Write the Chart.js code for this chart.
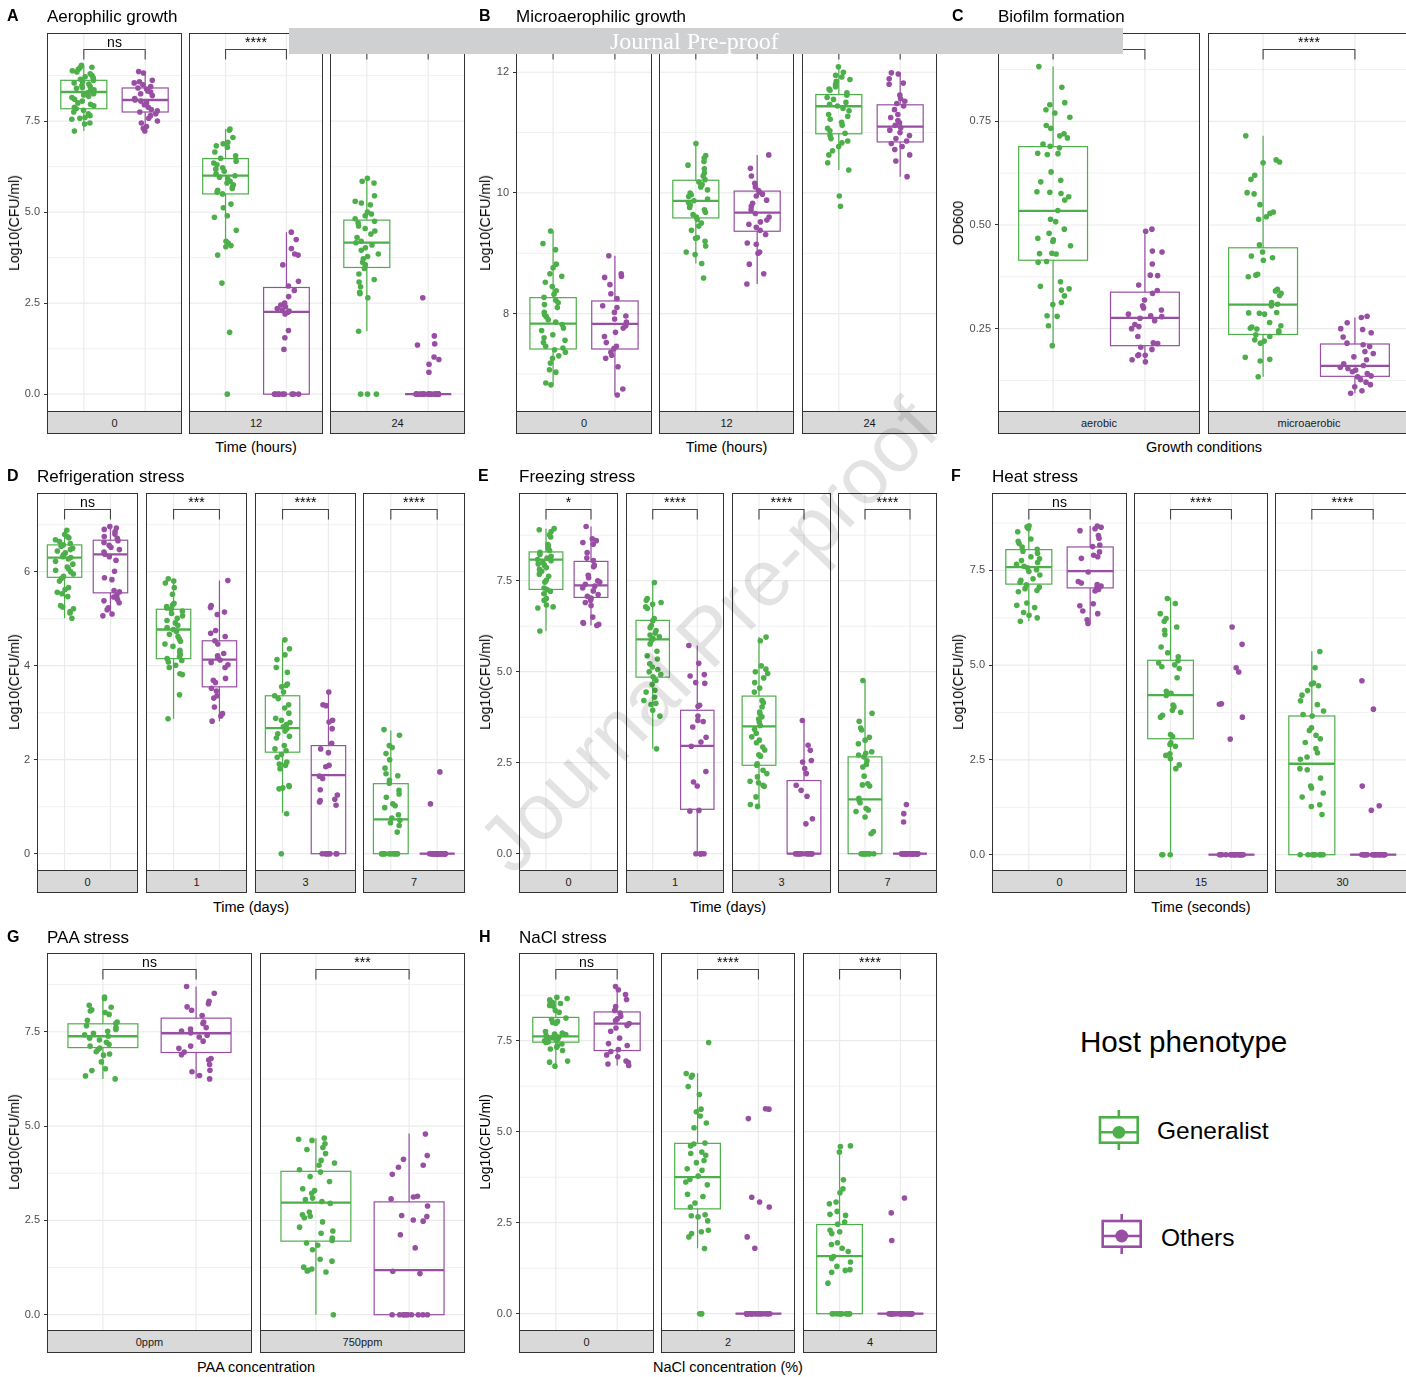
<!DOCTYPE html>
<html><head><meta charset="utf-8">
<script src="https://cdn.jsdelivr.net/npm/chart.js@4.4.1/dist/chart.umd.min.js"></script>
<style>
html,body{margin:0;padding:0;background:#fff;}
#root{position:relative;width:1406px;height:1377px;overflow:hidden;background:#fff;font-family:"Liberation Sans",Arial,Helvetica,sans-serif;color:#000;}
canvas{position:absolute;}
.t{position:absolute;white-space:nowrap;line-height:1;}
.strip{position:absolute;box-sizing:border-box;background:#d9d9d9;border:1px solid #333;font-size:11px;color:#1a1a1a;display:flex;align-items:center;justify-content:center;}
</style></head><body><div id="root"></div>
<script>
// ================= DATA =================
const groups = ['Generalist', 'Others'];

// ---- A: Aerophilic growth (Log10 CFU/ml) ----
const aeroFacets = ['0', '12', '24'];
const aeroTicks = [0, 2.5, 5, 7.5];
const aeroTickLabels = ['0.0', '2.5', '5.0', '7.5'];
const aeroSig = ['ns', '****', '****'];
const aeroGeneralist = [
 [9.03,8.98,8.97,8.92,8.88,8.85,8.80,8.75,8.72,8.68,8.65,8.62,8.58,8.55,8.52,8.48,8.45,8.42,8.40,8.36,8.33,8.30,8.28,8.25,8.22,8.18,8.15,8.10,8.05,8.00,7.96,7.92,7.88,7.84,7.80,7.75,7.70,7.65,7.60,7.58,7.55,7.45,7.42,7.23],
 [7.28,7.25,7.05,6.92,6.88,6.82,6.78,6.65,6.55,6.48,6.40,6.35,6.30,6.22,6.18,6.12,6.05,6.00,5.96,5.92,5.85,5.80,5.75,5.70,5.65,5.60,5.55,5.50,5.22,5.12,4.90,4.86,4.50,4.20,4.15,4.08,4.05,3.82,3.05,1.70,0],
 [5.93,5.85,5.80,5.45,5.30,5.25,5.20,5.00,4.95,4.90,4.82,4.75,4.70,4.62,4.55,4.48,4.40,4.30,4.20,4.16,4.10,4.02,3.95,3.85,3.78,3.72,3.62,3.55,3.45,3.30,3.15,3.08,2.95,2.80,2.76,2.65,1.73,0,0,0]
];
const aeroOthers = [
 [8.86,8.82,8.62,8.58,8.55,8.50,8.45,8.41,8.38,8.33,8.30,8.25,8.20,8.12,8.08,8.05,8.00,7.95,7.88,7.82,7.78,7.75,7.70,7.65,7.58,7.50,7.45,7.35,7.30,7.23],
 [4.45,4.25,4.00,3.85,3.82,3.55,3.10,2.97,2.85,2.68,2.50,2.45,2.40,2.35,2.30,2.28,2.25,2.20,1.75,1.55,1.23,0,0,0,0,0,0,0,0,0],
 [2.65,1.60,1.38,1.35,1.02,0.95,0.82,0.60,0,0,0,0,0,0,0,0,0,0,0,0,0,0,0,0,0,0,0,0,0,0]
];
// box stats: [lower whisker, Q1, median, Q3, upper whisker]
const aeroBoxGeneralist = [[7.23,7.84,8.30,8.62,9.03],[4.05,5.50,6.00,6.47,7.28],[1.73,3.48,4.16,4.78,5.93]];
const aeroBoxOthers = [[7.23,7.75,8.08,8.41,8.86],[0,0,2.26,2.93,4.45],[0,0,0,0,0]];

// ---- B: Microaerophilic growth ----
const microFacets = ['0', '12', '24'];
const microTicks = [8, 10, 12];
const microTickLabels = ['8', '10', '12'];
const microSig = ['ns', '****', '****'];
const microGeneralist = [
 [9.37,9.16,9.06,8.82,8.76,8.66,8.62,8.52,8.45,8.38,8.32,8.27,8.22,8.18,8.15,8.10,8.02,7.98,7.95,7.90,7.86,7.82,7.76,7.72,7.65,7.60,7.56,7.52,7.46,7.43,7.40,7.36,7.30,7.26,7.18,7.07,7.03,6.85,6.82],
 [10.82,10.62,10.58,10.52,10.46,10.40,10.33,10.28,10.22,10.18,10.14,10.10,10.05,10.00,9.97,9.94,9.90,9.87,9.84,9.80,9.76,9.72,9.68,9.64,9.60,9.56,9.50,9.45,9.38,9.26,9.25,9.20,9.12,9.02,8.98,8.83,8.59],
 [12.09,12.00,11.95,11.92,11.88,11.85,11.80,11.76,11.72,11.70,11.66,11.62,11.58,11.55,11.50,11.47,11.44,11.40,11.36,11.30,11.27,11.22,11.17,11.12,11.07,11.03,10.99,10.95,10.90,10.86,10.83,10.77,10.70,10.63,10.50,10.38,9.95,9.78]
];
const microOthers = [
 [8.96,8.66,8.62,8.60,8.48,8.33,8.25,8.13,8.10,8.02,7.96,7.91,7.86,7.80,7.76,7.69,7.62,7.52,7.46,7.42,7.36,7.31,7.26,7.12,6.75,6.65],
 [10.63,10.41,10.28,10.16,10.10,10.04,10.01,9.98,9.95,9.88,9.83,9.78,9.72,9.66,9.60,9.55,9.52,9.48,9.43,9.38,9.31,9.17,9.15,9.02,9.00,8.82,8.66,8.49],
 [11.99,11.97,11.89,11.82,11.80,11.62,11.56,11.52,11.48,11.44,11.38,11.30,11.25,11.20,11.16,11.12,11.08,11.04,11.00,10.95,10.90,10.86,10.82,10.77,10.72,10.63,10.53,10.27]
];
const microBoxGeneralist = [[6.82,7.414,7.834,8.265,9.37],[8.83,9.586,9.867,10.21,10.82],[10.38,10.98,11.436,11.63,12.09]];
const microBoxOthers = [[6.65,7.414,7.83,8.21,8.96],[8.49,9.365,9.674,10.03,10.63],[10.27,10.845,11.10,11.46,11.99]];

// ---- C: Biofilm formation (OD600) ----
const biofilmFacets = ['aerobic', 'microaerobic'];
const biofilmTicks = [0.25, 0.5, 0.75];
const biofilmTickLabels = ['0.25', '0.50', '0.75'];
const biofilmSig = ['****', '****'];
const biofilmGeneralist = [
 [0.882,0.832,0.795,0.790,0.778,0.770,0.760,0.740,0.733,0.720,0.715,0.710,0.695,0.690,0.686,0.673,0.672,0.670,0.628,0.608,0.604,0.580,0.579,0.576,0.568,0.560,0.535,0.514,0.508,0.490,0.480,0.468,0.464,0.460,0.450,0.432,0.431,0.430,0.412,0.410,0.363,0.352,0.346,0.343,0.329,0.313,0.308,0.281,0.280,0.257,0.209],
 [0.715,0.657,0.652,0.650,0.620,0.610,0.578,0.575,0.549,0.531,0.528,0.520,0.514,0.452,0.435,0.425,0.421,0.415,0.381,0.379,0.375,0.345,0.341,0.335,0.330,0.313,0.309,0.305,0.289,0.288,0.287,0.285,0.265,0.257,0.254,0.251,0.249,0.245,0.241,0.235,0.231,0.223,0.220,0.215,0.181,0.176,0.172,0.134]
];
const biofilmOthers = [
 [0.490,0.485,0.437,0.435,0.406,0.379,0.378,0.355,0.342,0.335,0.319,0.305,0.300,0.295,0.285,0.281,0.279,0.275,0.269,0.260,0.255,0.250,0.231,0.216,0.214,0.205,0.200,0.187,0.186,0.185,0.175,0.170],
 [0.280,0.277,0.264,0.250,0.248,0.240,0.230,0.215,0.211,0.207,0.195,0.190,0.182,0.175,0.165,0.161,0.157,0.154,0.150,0.146,0.142,0.136,0.134,0.127,0.121,0.115,0.110,0.100,0.094]
];
const biofilmBoxGeneralist = [[0.209,0.415,0.534,0.689,0.882],[0.134,0.236,0.308,0.445,0.715]];
const biofilmBoxOthers = [[0.170,0.209,0.276,0.338,0.490],[0.094,0.135,0.160,0.213,0.277]];

// ---- D: Refrigeration stress ----
const fridgeFacets = ['0', '1', '3', '7'];
const fridgeTicks = [0, 2, 4, 6];
const fridgeTickLabels = ['0', '2', '4', '6'];
const fridgeSig = ['ns', '***', '****', '****'];
const fridgeGeneralist = [
 [6.88,6.79,6.75,6.72,6.68,6.64,6.60,6.57,6.54,6.50,6.47,6.44,6.40,6.36,6.32,6.30,6.27,6.22,6.16,6.10,6.06,6.03,6.00,5.95,5.90,5.86,5.80,5.66,5.62,5.56,5.53,5.47,5.28,5.25,5.21,5.15,5.12,5.01],
 [5.85,5.80,5.76,5.66,5.52,5.33,5.29,5.26,5.23,5.20,5.16,5.11,5.06,5.01,4.96,4.91,4.86,4.81,4.77,4.73,4.67,4.62,4.57,4.52,4.46,4.41,4.33,4.28,4.24,4.19,4.15,4.11,4.08,4.01,3.96,3.83,3.81,3.38,2.87],
 [4.55,4.36,4.23,4.13,3.96,3.86,3.61,3.58,3.55,3.44,3.36,3.30,3.17,3.10,2.99,2.88,2.84,2.79,2.75,2.70,2.66,2.61,2.55,2.50,2.46,2.30,2.23,2.19,2.11,2.05,1.95,1.91,1.88,1.81,1.45,1.43,1.40,1.38,0.85,0],
 [2.64,2.52,2.30,2.26,2.13,2.00,1.82,1.70,1.66,1.56,1.50,1.35,1.27,1.20,1.06,1.02,0.98,0.83,0.76,0.71,0.66,0.60,0.46,0,0,0,0,0,0,0,0,0,0,0,0]
];
const fridgeOthers = [
 [6.96,6.93,6.90,6.85,6.80,6.75,6.71,6.66,6.62,6.56,6.52,6.47,6.42,6.37,6.32,6.24,6.01,5.87,5.83,5.60,5.57,5.50,5.46,5.41,5.38,5.34,5.23,5.19,5.10,5.06],
 [5.81,5.28,5.24,5.14,5.09,4.75,4.69,4.62,4.53,4.46,4.26,4.21,4.17,4.12,4.07,4.02,3.96,3.73,3.69,3.64,3.52,3.46,3.36,3.31,3.12,2.98,2.93,2.82],
 [3.44,3.17,3.15,2.84,2.80,2.66,2.35,2.23,2.15,1.88,1.85,1.65,1.60,1.36,1.25,1.16,1.13,1.10,1.03,0,0,0,0,0,0,0,0],
 [1.74,1.06,0,0,0,0,0,0,0,0,0,0,0,0,0,0,0,0,0,0,0,0,0,0,0,0,0,0]
];
const fridgeBoxGeneralist = [[5.01,5.88,6.30,6.57,6.88],[2.87,4.15,4.77,5.20,5.85],[0.87,2.16,2.67,3.36,4.56],[0,0,0.73,1.49,2.62]];
const fridgeBoxOthers = [[5.06,5.55,6.37,6.67,6.96],[2.82,3.55,4.13,4.53,5.81],[0,0,1.67,2.30,3.44],[0,0,0,0,0]];

// ---- E: Freezing stress ----
const freezeFacets = ['0', '1', '3', '7'];
const freezeTicks = [0, 2.5, 5, 7.5];
const freezeTickLabels = ['0.0', '2.5', '5.0', '7.5'];
const freezeSig = ['*', '****', '****', '****'];
const freezeGeneralist = [
 [8.93,8.90,8.85,8.76,8.70,8.49,8.45,8.40,8.33,8.28,8.22,8.17,8.12,8.08,8.05,8.01,7.96,7.92,7.86,7.81,7.76,7.68,7.62,7.51,7.46,7.30,7.26,7.21,7.14,7.01,6.96,6.83,6.78,6.75,6.12],
 [7.45,7.01,6.96,6.90,6.85,6.78,6.74,6.46,6.40,6.27,6.21,6.13,6.06,6.01,5.96,5.91,5.86,5.76,5.56,5.44,5.35,5.22,5.13,5.06,5.00,4.92,4.86,4.76,4.65,4.49,4.44,4.30,4.21,4.13,4.10,3.94,3.78,2.88],
 [5.95,5.85,5.16,5.07,5.00,4.95,4.83,4.70,4.55,4.44,4.21,4.15,4.03,3.89,3.85,3.76,3.70,3.62,3.52,3.42,3.31,3.21,3.12,3.05,2.93,2.85,2.72,2.68,2.47,2.43,2.29,2.20,2.11,1.99,1.95,1.88,1.85,1.56,1.35,1.30],
 [4.76,3.86,3.64,3.45,3.40,3.20,3.12,3.02,2.80,2.76,2.71,2.66,2.55,2.45,2.38,2.13,1.92,1.89,1.86,1.52,1.46,1.40,1.24,1.20,1.16,1.01,0.61,0.55,0,0,0,0,0,0,0,0,0,0]
];
const freezeOthers = [
 [8.99,8.65,8.60,8.55,8.50,8.27,8.12,8.05,7.92,7.88,7.65,7.58,7.50,7.46,7.40,7.35,7.30,7.22,7.12,7.07,7.02,6.96,6.90,6.82,6.50,6.35,6.33,6.30,6.27],
 [5.72,5.23,4.92,4.88,4.70,4.68,4.08,4.05,3.78,3.66,3.63,3.48,3.20,3.07,2.95,2.26,1.97,1.86,1.19,1.17,0,0,0,0,0],
 [3.66,2.98,2.84,2.56,2.52,2.34,2.20,1.88,1.74,1.58,0.96,0.82,0,0,0,0,0,0,0,0,0,0,0,0,0,0],
 [1.35,1.10,0.87,0,0,0,0,0,0,0,0,0,0,0,0,0,0,0,0,0,0,0,0,0,0,0,0,0]
];
const freezeBoxGeneralist = [[6.12,7.26,8.08,8.29,8.93],[2.88,4.85,5.89,6.41,7.45],[1.28,2.43,3.50,4.33,5.95],[0,0,1.49,2.66,4.76]];
const freezeBoxOthers = [[6.27,7.04,7.37,8.03,8.99],[0,1.22,2.96,3.94,5.72],[0,0,0,2.01,3.66],[0,0,0,0,0]];

// ---- F: Heat stress ----
const heatFacets = ['0', '15', '30'];
const heatTicks = [0, 2.5, 5, 7.5];
const heatTickLabels = ['0.0', '2.5', '5.0', '7.5'];
const heatSig = ['ns', '****', '****'];
const heatGeneralist = [
 [8.68,8.65,8.61,8.52,8.33,8.27,8.21,8.12,8.06,8.01,7.95,7.86,7.81,7.76,7.71,7.66,7.61,7.57,7.52,7.47,7.38,7.28,7.24,7.19,7.12,7.06,7.02,6.97,6.94,6.64,6.58,6.52,6.39,6.32,6.25,6.16],
 [6.76,6.63,6.36,6.23,6.16,6.01,5.92,5.81,5.48,5.33,5.22,5.12,5.06,5.01,4.96,4.91,4.67,4.31,4.26,4.20,3.95,3.90,3.81,3.76,3.68,3.63,3.17,3.12,2.95,2.91,2.86,2.66,2.62,2.53,2.37,2.27,0,0,0],
 [5.36,4.93,4.53,4.50,4.46,4.33,4.21,4.06,3.96,3.79,3.70,3.66,3.35,3.28,3.15,3.06,2.96,2.80,2.69,2.58,2.52,2.27,2.24,2.02,1.81,1.76,1.63,1.52,1.32,1.27,1.06,0,0,0,0,0,0,0,0,0,0]
];
const heatOthers = [
 [8.67,8.64,8.60,8.55,8.42,8.35,8.17,8.13,7.99,7.90,7.86,7.82,7.46,7.21,7.17,7.13,7.09,7.04,7.00,6.96,6.62,6.57,6.43,6.36,6.20,6.10],
 [6.01,5.55,4.93,4.82,3.98,3.97,3.63,3.05,0,0,0,0,0,0,0,0,0,0,0,0,0,0,0,0,0,0,0,0],
 [4.59,3.84,1.81,1.29,1.17,0,0,0,0,0,0,0,0,0,0,0,0,0,0,0,0,0,0,0,0,0,0]
];
const heatBoxGeneralist = [[6.16,7.14,7.59,8.05,8.68],[0,3.06,4.21,5.13,6.78],[0,0,2.40,3.66,5.37]];
const heatBoxOthers = [[6.10,7.04,7.48,8.12,8.67],[0,0,0,0,0],[0,0,0,0,0]];

// ---- G: PAA stress ----
const paaFacets = ['0ppm', '750ppm'];
const paaTicks = [0, 2.5, 5, 7.5];
const paaTickLabels = ['0.0', '2.5', '5.0', '7.5'];
const paaSig = ['ns', '***'];
const paaGeneralist = [
 [8.42,8.38,8.20,8.15,8.08,8.05,8.01,7.96,7.80,7.76,7.72,7.66,7.61,7.56,7.51,7.46,7.42,7.38,7.33,7.28,7.22,7.17,7.12,7.07,7.03,6.97,6.91,6.88,6.70,6.52,6.47,6.33,6.25],
 [4.68,4.65,4.62,4.53,4.43,4.38,4.27,4.09,4.02,3.96,3.84,3.78,3.66,3.53,3.34,3.29,3.22,3.09,3.05,3.00,2.95,2.72,2.65,2.61,2.57,2.46,2.32,2.22,2.16,2.03,1.97,1.90,1.84,1.72,1.47,1.42,1.26,1.21,1.18,1.16,1.13,0]
];
const paaOthers = [
 [8.70,8.52,8.31,8.24,8.16,8.07,7.93,7.76,7.72,7.61,7.57,7.52,7.47,7.41,7.36,7.25,7.12,7.06,6.96,6.89,6.79,6.75,6.63,6.48,6.44,6.34,6.25],
 [4.79,4.22,4.12,3.96,3.91,3.72,3.14,3.12,3.07,2.88,2.63,2.60,2.51,2.48,2.12,1.77,1.15,1.09,0,0,0,0,0,0,0,0,0,0]
];
const paaBoxGeneralist = [[6.25,7.08,7.38,7.71,8.42],[0,1.95,2.97,3.80,4.68]];
const paaBoxOthers = [[6.25,6.95,7.46,7.86,8.70],[0,0,1.18,2.99,4.80]];

// ---- H: NaCl stress ----
const naclFacets = ['0', '2', '4'];
const naclTicks = [0, 2.5, 5, 7.5];
const naclTickLabels = ['0.0', '2.5', '5.0', '7.5'];
const naclSig = ['ns', '****', '****'];
const naclGeneralist = [
 [8.69,8.66,8.62,8.58,8.55,8.52,8.47,8.45,8.33,8.28,8.12,8.08,8.03,8.00,7.98,7.75,7.71,7.68,7.67,7.64,7.63,7.61,7.60,7.58,7.57,7.55,7.53,7.52,7.50,7.49,7.47,7.45,7.41,7.36,7.32,7.27,7.23,6.94,6.91,6.80],
 [7.45,6.60,6.55,6.50,6.24,6.02,5.62,5.55,5.43,5.24,5.11,4.69,4.66,4.61,4.44,4.40,4.35,4.21,4.15,3.98,3.94,3.78,3.69,3.62,3.54,3.28,3.22,3.04,2.93,2.72,2.69,2.66,2.55,2.29,2.25,2.20,2.11,1.79,0,0,0],
 [4.61,4.59,4.44,3.68,3.43,3.32,3.07,3.02,2.81,2.73,2.70,2.52,2.46,2.29,2.25,2.20,1.95,1.90,1.80,1.71,1.57,1.52,1.42,1.30,1.21,1.19,1.14,0.84,0,0,0,0,0,0,0,0,0,0,0,0]
];
const naclOthers = [
 [8.99,8.90,8.77,8.63,8.44,8.33,8.26,8.17,8.10,8.05,7.97,7.92,7.85,7.76,7.57,7.42,7.37,7.26,7.20,7.11,7.06,6.94,6.90,6.86,6.82],
 [5.63,5.62,5.36,3.20,3.07,2.93,2.11,1.80,0,0,0,0,0,0,0,0,0,0,0,0,0,0,0,0,0,0,0,0],
 [3.18,2.77,2.01,0,0,0,0,0,0,0,0,0,0,0,0,0,0,0,0,0,0,0,0,0,0,0,0]
];
const naclBoxGeneralist = [[6.80,7.46,7.62,8.14,8.69],[1.80,2.88,3.75,4.68,6.61],[0,0,1.58,2.45,4.61]];
const naclBoxOthers = [[6.82,7.23,7.97,8.29,8.99],[0,0,0,0,0],[0,0,0,0,0]];

// ================= LAYOUT / STYLE =================
const FONT = '"Liberation Sans", Arial, Helvetica, sans-serif';
const COLORS = ['#4DAF4A', '#984EA3'];
const M = 12; // canvas margin above/below plot area

const PANELS = [
 {letter:'A', lx:7, title:'Aerophilic growth', tx:47, ty:16, top:33, bottom:412, axisLeft:18,
  fx:[[47,182],[189,323],[330,465]], yTitle:'Log10(CFU/ml)', ytx:13.5, xTitle:'Time (hours)', xtx:256, xty:447,
  ymin:-0.49, ymax:9.92, facets:aeroFacets, ticks:aeroTicks, tl:aeroTickLabels, sig:aeroSig,
  gen:aeroGeneralist, oth:aeroOthers, bg:aeroBoxGeneralist, bo:aeroBoxOthers},
 {letter:'B', lx:479, title:'Microaerophilic growth', tx:516, ty:16, top:33, bottom:412, axisLeft:490,
  fx:[[516,652],[659,794],[802,937]], yTitle:'Log10(CFU/ml)', ytx:484.5, xTitle:'Time (hours)', xtx:726.5, xty:447,
  ymin:6.37, ymax:12.65, facets:microFacets, ticks:microTicks, tl:microTickLabels, sig:microSig,
  gen:microGeneralist, oth:microOthers, bg:microBoxGeneralist, bo:microBoxOthers},
 {letter:'C', lx:952, title:'Biofilm formation', tx:998, ty:16, top:33, bottom:412, axisLeft:964,
  fx:[[998,1200],[1208,1410]], yTitle:'OD600', ytx:957.5, xTitle:'Growth conditions', xtx:1204, xty:447,
  ymin:0.049, ymax:0.963, facets:biofilmFacets, ticks:biofilmTicks, tl:biofilmTickLabels, sig:biofilmSig,
  gen:biofilmGeneralist, oth:biofilmOthers, bg:biofilmBoxGeneralist, bo:biofilmBoxOthers},
 {letter:'D', lx:7, title:'Refrigeration stress', tx:37, ty:476, top:493, bottom:871, axisLeft:18,
  fx:[[37,138],[146,247],[255,356],[363,465]], yTitle:'Log10(CFU/ml)', ytx:13.5, xTitle:'Time (days)', xtx:251, xty:907,
  ymin:-0.368, ymax:7.674, facets:fridgeFacets, ticks:fridgeTicks, tl:fridgeTickLabels, sig:fridgeSig,
  gen:fridgeGeneralist, oth:fridgeOthers, bg:fridgeBoxGeneralist, bo:fridgeBoxOthers},
 {letter:'E', lx:478, title:'Freezing stress', tx:519, ty:476, top:493, bottom:871, axisLeft:490,
  fx:[[519,618],[626,724],[732,831],[838,937]], yTitle:'Log10(CFU/ml)', ytx:484.5, xTitle:'Time (days)', xtx:728, xty:907,
  ymin:-0.475, ymax:9.909, facets:freezeFacets, ticks:freezeTicks, tl:freezeTickLabels, sig:freezeSig,
  gen:freezeGeneralist, oth:freezeOthers, bg:freezeBoxGeneralist, bo:freezeBoxOthers},
 {letter:'F', lx:951, title:'Heat stress', tx:992, ty:476, top:493, bottom:871, axisLeft:962,
  fx:[[992,1127],[1134,1268],[1275,1410]], yTitle:'Log10(CFU/ml)', ytx:957.5, xTitle:'Time (seconds)', xtx:1201, xty:907,
  ymin:-0.43, ymax:9.544, facets:heatFacets, ticks:heatTicks, tl:heatTickLabels, sig:heatSig,
  gen:heatGeneralist, oth:heatOthers, bg:heatBoxGeneralist, bo:heatBoxOthers},
 {letter:'G', lx:7, title:'PAA stress', tx:47, ty:936.5, top:953, bottom:1331, axisLeft:18,
  fx:[[47,252],[260,465]], yTitle:'Log10(CFU/ml)', ytx:13.5, xTitle:'PAA concentration', xtx:256, xty:1367,
  ymin:-0.432, ymax:9.587, facets:paaFacets, ticks:paaTicks, tl:paaTickLabels, sig:paaSig,
  gen:paaGeneralist, oth:paaOthers, bg:paaBoxGeneralist, bo:paaBoxOthers},
 {letter:'H', lx:479, title:'NaCl stress', tx:519, ty:936.5, top:953, bottom:1331, axisLeft:490,
  fx:[[519,654],[661,795],[803,937]], yTitle:'Log10(CFU/ml)', ytx:484.5, xTitle:'NaCl concentration (%)', xtx:728, xty:1367,
  ymin:-0.475, ymax:9.909, facets:naclFacets, ticks:naclTicks, tl:naclTickLabels, sig:naclSig,
  gen:naclGeneralist, oth:naclOthers, bg:naclBoxGeneralist, bo:naclBoxOthers}
];

const root = document.getElementById('root');

function txt(s, x, y, size, o = {}) {
  const d = document.createElement('div');
  d.className = 't';
  d.textContent = s;
  d.style.fontSize = size + 'px';
  d.style.left = x + 'px';
  d.style.top = y + 'px';
  let tr = o.center ? 'translate(-50%,-50%)' : 'translate(0,-50%)';
  if (o.rot) tr += ' rotate(' + o.rot + 'deg)';
  d.style.transform = tr;
  if (o.bold) d.style.fontWeight = 'bold';
  if (o.color) d.style.color = o.color;
  if (o.family) d.style.fontFamily = o.family;
  if (o.z) d.style.zIndex = o.z;
  root.appendChild(d);
  return d;
}

// deterministic horizontal jitter (layout only, width +-0.2 category units)
function jitter(i, seed) {
  let h = Math.imul((i + 1) ^ (seed * 7919), 2654435761);
  h ^= h >>> 15; h = Math.imul(h, 2246822519); h ^= h >>> 13;
  const f = ((h >>> 0) % 10000) / 10000;
  return (f - 0.5) * 0.4;
}

function minorTicks(ticks, min, max) {
  const out = [];
  const step = ticks[1] - ticks[0];
  const ext = [ticks[0] - step, ...ticks, ticks[ticks.length - 1] + step];
  for (let i = 0; i < ext.length - 1; i++) {
    const v = (ext[i] + ext[i + 1]) / 2;
    if (v > min && v < max) out.push(v);
  }
  return out;
}

let facetCounter = 0;
function makeFacet(P, fi) {
  const [fl, fr] = P.fx[fi];
  const axisW = fi === 0 ? fl - P.axisLeft : 0;
  const W = fr - fl + axisW;
  const H = P.bottom - P.top + 2 * M;
  const cv = document.createElement('canvas');
  cv.width = W; cv.height = H;
  cv.style.left = (fl - axisW) + 'px';
  cv.style.top = (P.top - M) + 'px';
  cv.style.width = W + 'px';
  cv.style.height = H + 'px';
  root.appendChild(cv);

  const minor = minorTicks(P.ticks, P.ymin, P.ymax);
  const boxes = [P.bg[fi], P.bo[fi]];
  const sig = P.sig[fi];
  const fc = ++facetCounter;

  const plug = {
    id: 'facet' ,
    beforeDatasetsDraw(chart) {
      const {ctx, chartArea: a, scales: {x, y}} = chart;
      ctx.save();
      ctx.beginPath();
      ctx.rect(a.left, a.top, a.right - a.left, a.bottom - a.top);
      ctx.clip();
      ctx.strokeStyle = '#EBEBEB';
      ctx.lineWidth = 0.7;
      minor.forEach(v => {
        const p = y.getPixelForValue(v);
        ctx.beginPath(); ctx.moveTo(a.left, p); ctx.lineTo(a.right, p); ctx.stroke();
      });
      ctx.lineWidth = 1.2;
      P.ticks.forEach(v => {
        const p = y.getPixelForValue(v);
        ctx.beginPath(); ctx.moveTo(a.left, p); ctx.lineTo(a.right, p); ctx.stroke();
      });
      [1, 2].forEach(v => {
        const p = x.getPixelForValue(v);
        ctx.beginPath(); ctx.moveTo(p, a.top); ctx.lineTo(p, a.bottom); ctx.stroke();
      });
      // boxes
      boxes.forEach((st, g) => {
        const [lo, q1, med, q3, hi] = st;
        const xc = x.getPixelForValue(g + 1);
        const xl = x.getPixelForValue(g + 1 - 0.375);
        const xr = x.getPixelForValue(g + 1 + 0.375);
        ctx.strokeStyle = COLORS[g];
        ctx.lineWidth = 1.2;
        ctx.beginPath();
        ctx.moveTo(xc, y.getPixelForValue(hi)); ctx.lineTo(xc, y.getPixelForValue(q3));
        ctx.moveTo(xc, y.getPixelForValue(q1)); ctx.lineTo(xc, y.getPixelForValue(lo));
        ctx.stroke();
        ctx.strokeRect(xl, y.getPixelForValue(q3), xr - xl, y.getPixelForValue(q1) - y.getPixelForValue(q3));
        ctx.lineWidth = 2.3;
        ctx.beginPath();
        ctx.moveTo(xl, y.getPixelForValue(med)); ctx.lineTo(xr, y.getPixelForValue(med));
        ctx.stroke();
      });
      ctx.restore();
    },
    afterDatasetsDraw(chart) {
      const {ctx, chartArea: a, scales: {x}} = chart;
      ctx.save();
      ctx.strokeStyle = '#333333';
      ctx.lineWidth = 1;
      ctx.strokeRect(a.left + 0.5, a.top + 0.5, a.right - a.left - 1, a.bottom - a.top - 1);
      const x1 = x.getPixelForValue(1), x2 = x.getPixelForValue(2);
      const yb = a.top + 16.5;
      ctx.strokeStyle = '#444';
      ctx.lineWidth = 1.1;
      ctx.beginPath();
      ctx.moveTo(x1, yb + 10); ctx.lineTo(x1, yb); ctx.lineTo(x2, yb); ctx.lineTo(x2, yb + 10);
      ctx.stroke();
      ctx.fillStyle = '#000';
      ctx.font = '14px ' + FONT;
      ctx.textAlign = 'center';
      ctx.textBaseline = 'alphabetic';
      ctx.fillText(sig, (x1 + x2) / 2, yb - 2.6);
      ctx.restore();
    }
  };

  const mk = (vals, g) => vals.map((v, i) => ({x: g + 1 + jitter(i, fc * 2 + g), y: v}));

  new Chart(cv, {
    type: 'scatter',
    data: {
      datasets: [
        {label: groups[0], data: mk(P.gen[fi], 0), backgroundColor: COLORS[0], borderWidth: 0, pointRadius: 2.8, pointHoverRadius: 2.8},
        {label: groups[1], data: mk(P.oth[fi], 1), backgroundColor: COLORS[1], borderWidth: 0, pointRadius: 2.8, pointHoverRadius: 2.8}
      ]
    },
    options: {
      responsive: false, animation: false, devicePixelRatio: 1, events: [],
      layout: {autoPadding: false, padding: {top: M, bottom: M, left: 0, right: 0}},
      plugins: {legend: {display: false}, tooltip: {enabled: false}},
      scales: {
        x: {type: 'linear', min: 0.4, max: 2.6, display: false},
        y: {
          type: 'linear', min: P.ymin, max: P.ymax, display: fi === 0,
          afterFit(s) { s.width = axisW; },
          afterBuildTicks(s) { s.ticks = P.ticks.map(v => ({value: v})); },
          ticks: {
            font: {size: 11, family: FONT}, color: '#4D4D4D', padding: 4,
            callback: (v, i) => P.tl[i]
          },
          grid: {drawOnChartArea: false, drawTicks: true, tickLength: 3, color: '#333333', tickColor: '#333333', lineWidth: 1},
          border: {display: false}
        }
      }
    },
    plugins: [plug]
  });

  // strip
  const s = document.createElement('div');
  s.className = 'strip';
  s.style.left = fl + 'px';
  s.style.top = (P.bottom - 1) + 'px';
  s.style.width = (fr - fl) + 'px';
  s.style.height = '23px';
  s.textContent = P.facets[fi];
  root.appendChild(s);
}

PANELS.forEach(P => {
  P.facets.forEach((f, fi) => makeFacet(P, fi));
  txt(P.letter, P.lx, P.ty, 16, {bold: true});
  txt(P.title, P.tx, P.ty, 17);
  txt(P.yTitle, P.ytx, (P.top + P.bottom) / 2, 14, {center: true, rot: -90});
  txt(P.xTitle, P.xtx, P.xty, 14.5, {center: true});
});

// ---- legend ----
txt('Host phenotype', 1080, 1042, 29.6);
txt('Generalist', 1157, 1131, 24.5);
txt('Others', 1161, 1238, 24.5);
const svgNS = 'http://www.w3.org/2000/svg';
const svg = document.createElementNS(svgNS, 'svg');
svg.setAttribute('width', '1406'); svg.setAttribute('height', '1377');
svg.style.position = 'absolute'; svg.style.left = '0'; svg.style.top = '0';
function key(x, y, w, h, wt, wb, my, color) {
  const cx = x + w / 2;
  const add = (tag, attrs) => { const e = document.createElementNS(svgNS, tag); for (const k in attrs) e.setAttribute(k, attrs[k]); svg.appendChild(e); };
  add('rect', {x, y, width: w, height: h, fill: 'none', stroke: color, 'stroke-width': 2.6});
  add('line', {x1: cx, y1: wt, x2: cx, y2: y, stroke: color, 'stroke-width': 2.6});
  add('line', {x1: cx, y1: y + h, x2: cx, y2: wb, stroke: color, 'stroke-width': 2.6});
  add('line', {x1: x, y1: my, x2: x + w, y2: my, stroke: color, 'stroke-width': 2.6});
  add('circle', {cx, cy: my, r: 6.4, fill: color});
}
key(1100, 1117.3, 37.7, 25.4, 1110, 1150, 1132.3, COLORS[0]);
key(1102.7, 1221, 38, 25.7, 1214, 1254, 1236, COLORS[1]);
root.appendChild(svg);

// ---- watermark & banner ----
const wm = txt('Journal Pre-proof', 708, 636, 80, {center: true, rot: -46, color: 'rgba(0,0,0,0.11)', z: 5});
wm.style.pointerEvents = 'none';
const ban = document.createElement('div');
ban.style.cssText = 'position:absolute;left:289px;top:28px;width:834px;height:26px;background:#cfd0d2;z-index:6;';
root.appendChild(ban);
const bt = txt('Journal Pre-proof', 610, 41, 24, {color: '#ffffff', family: '"Liberation Serif", "Times New Roman", serif', z: 7});
</script>
</body></html>
